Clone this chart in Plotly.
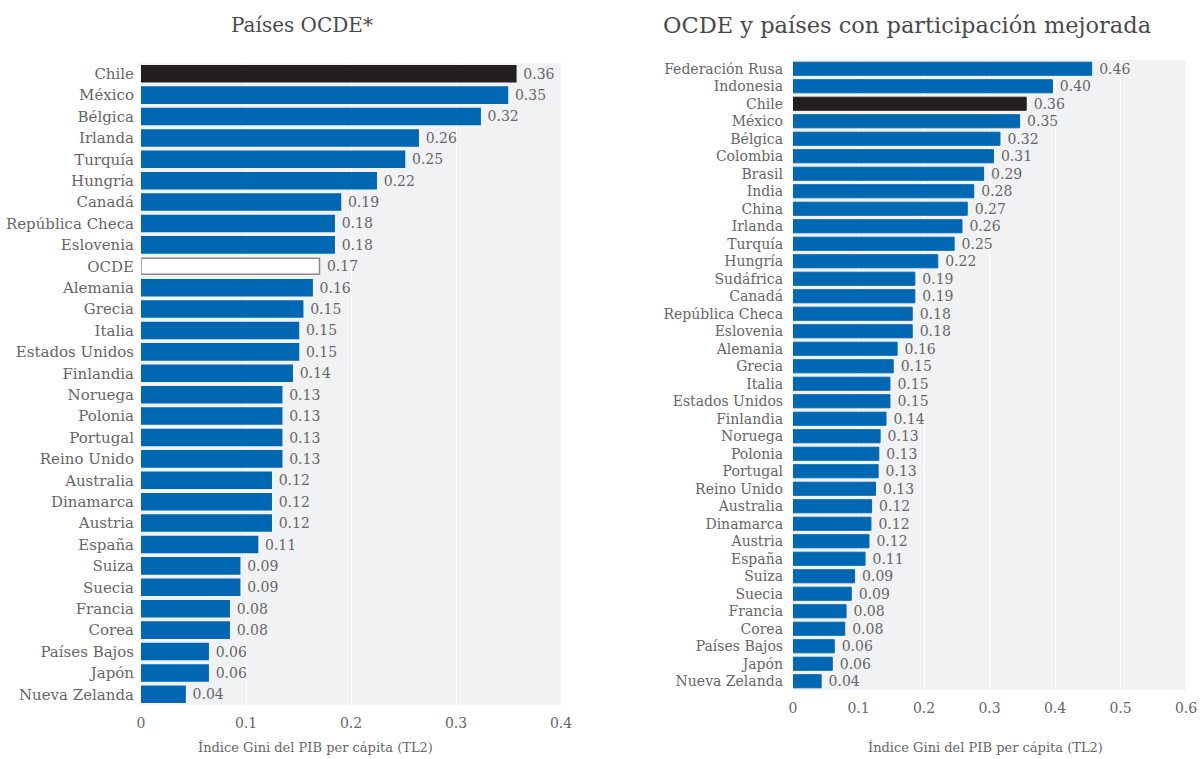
import plotly.graph_objects as go

# Panel 1: OECD countries (regional Gini index of GDP per capita, TL2)
oecd_countries = [
    "Chile", "México", "Bélgica", "Irlanda", "Turquía", "Hungría", "Canadá",
    "República Checa", "Eslovenia", "OCDE", "Alemania", "Grecia", "Italia",
    "Estados Unidos", "Finlandia", "Noruega", "Polonia", "Portugal",
    "Reino Unido", "Australia", "Dinamarca", "Austria", "España", "Suiza",
    "Suecia", "Francia", "Corea", "Países Bajos", "Japón", "Nueva Zelanda",
]
oecd_gini = [
    0.357, 0.349, 0.323, 0.264, 0.251, 0.224, 0.190,
    0.184, 0.184, 0.170, 0.163, 0.154, 0.150,
    0.150, 0.144, 0.134, 0.134, 0.134,
    0.134, 0.124, 0.124, 0.124, 0.111, 0.094,
    0.094, 0.084, 0.084, 0.064, 0.064, 0.042,
]

# Panel 2: OECD plus enhanced-engagement countries
ext_countries = [
    "Federación Rusa", "Indonesia", "Chile", "México", "Bélgica", "Colombia",
    "Brasil", "India", "China", "Irlanda", "Turquía", "Hungría", "Sudáfrica",
    "Canadá", "República Checa", "Eslovenia", "Alemania", "Grecia", "Italia",
    "Estados Unidos", "Finlandia", "Noruega", "Polonia", "Portugal",
    "Reino Unido", "Australia", "Dinamarca", "Austria", "España", "Suiza",
    "Suecia", "Francia", "Corea", "Países Bajos", "Japón", "Nueva Zelanda",
]
ext_gini = [
    0.456, 0.396, 0.356, 0.346, 0.316, 0.306,
    0.291, 0.276, 0.266, 0.258, 0.246, 0.221, 0.186,
    0.186, 0.182, 0.182, 0.159, 0.153, 0.148,
    0.148, 0.142, 0.133, 0.131, 0.130,
    0.126, 0.120, 0.119, 0.116, 0.110, 0.094,
    0.089, 0.081, 0.079, 0.063, 0.060, 0.043,
]

left_ticks = [0, 0.1, 0.2, 0.3, 0.4]
right_ticks = [0, 0.1, 0.2, 0.3, 0.4, 0.5, 0.6]

BLUE = "#0068b3"
DARK = "#231f20"
TEXT = "#666666"
FONT = "DejaVu Serif"
W, H = 1200, 759


def colours(names):
    fill, line = [], []
    for n in names:
        if n == "Chile":
            fill.append(DARK); line.append(DARK)
        elif n == "OCDE":
            fill.append("#ffffff"); line.append("#8a8a8a")
        else:
            fill.append(BLUE); line.append(BLUE)
    return fill, line


fig = go.Figure()

f1, l1 = colours(oecd_countries)
fig.add_trace(go.Bar(
    x=oecd_gini, y=oecd_countries, orientation="h",
    marker=dict(color=f1, line=dict(color=l1, width=1.5)),
    texttemplate=" %{x:.2f}", textposition="outside", constraintext="none",
    textfont=dict(family=FONT, size=14, color=TEXT),
    cliponaxis=False, xaxis="x", yaxis="y", showlegend=False,
    hovertemplate="%{y}: %{x:.2f}<extra></extra>",
))

f2, l2 = colours(ext_countries)
fig.add_trace(go.Bar(
    x=ext_gini, y=ext_countries, orientation="h",
    marker=dict(color=f2, line=dict(color=l2, width=1)),
    texttemplate=" %{x:.2f}", textposition="outside", constraintext="none",
    textfont=dict(family=FONT, size=14, color=TEXT),
    cliponaxis=False, xaxis="x2", yaxis="y2", showlegend=False,
    hovertemplate="%{y}: %{x:.2f}<extra></extra>",
))

axis_common = dict(
    showgrid=True, gridcolor="#ffffff", gridwidth=1, zeroline=False,
    showline=False, ticks="", automargin=False,
    tickfont=dict(family=FONT, size=14, color=TEXT),
)


def px_x(v):
    return v / W


def px_y(v):
    return 1 - v / H


fig.update_layout(
    width=W, height=H,
    margin=dict(l=0, r=0, t=0, b=0, autoexpand=False),
    paper_bgcolor="#ffffff",
    plot_bgcolor="#f1f2f4",
    font=dict(family=FONT, color=TEXT),
    bargap=0.25,
    xaxis=dict(domain=[px_x(141), px_x(561)], range=[0, 0.4],
               tickvals=left_ticks, ticktext=[f"{t:g}" for t in left_ticks],
               ticklabelstandoff=8, anchor="y", **axis_common),
    yaxis=dict(domain=[px_y(705), px_y(63)], autorange="reversed",
               type="category", anchor="x", showgrid=False, ticks="",
               automargin=False, ticklabelstandoff=6,
               tickfont=dict(family=FONT, size=15, color=TEXT)),
    xaxis2=dict(domain=[px_x(793), px_x(1186)], range=[0, 0.6],
                tickvals=right_ticks, ticktext=[f"{t:g}" for t in right_ticks],
                ticklabelstandoff=8, anchor="y2", **axis_common),
    yaxis2=dict(domain=[px_y(690), px_y(60)], autorange="reversed",
                type="category", anchor="x2", showgrid=False, ticks="",
                automargin=False, ticklabelstandoff=9,
                tickfont=dict(family=FONT, size=14, color=TEXT)),
    annotations=[
        dict(text="Países OCDE*", x=px_x(302), y=px_y(25),
             xref="paper", yref="paper", showarrow=False,
             xanchor="center", yanchor="middle",
             font=dict(family=FONT, size=20, color="#4a4a4a")),
        dict(text="OCDE y países con participación mejorada", x=px_x(907),
             y=px_y(25), xref="paper", yref="paper", showarrow=False,
             xanchor="center", yanchor="middle",
             font=dict(family=FONT, size=22.5, color="#4a4a4a")),
        dict(text="Índice Gini del PIB per cápita (TL2)", x=px_x(316),
             y=px_y(747), xref="paper", yref="paper", showarrow=False,
             xanchor="center", yanchor="middle",
             font=dict(family=FONT, size=13, color=TEXT)),
        dict(text="Índice Gini del PIB per cápita (TL2)", x=px_x(985),
             y=px_y(747), xref="paper", yref="paper", showarrow=False,
             xanchor="center", yanchor="middle",
             font=dict(family=FONT, size=13, color=TEXT)),
    ],
)

fig.write_html("out.html")
